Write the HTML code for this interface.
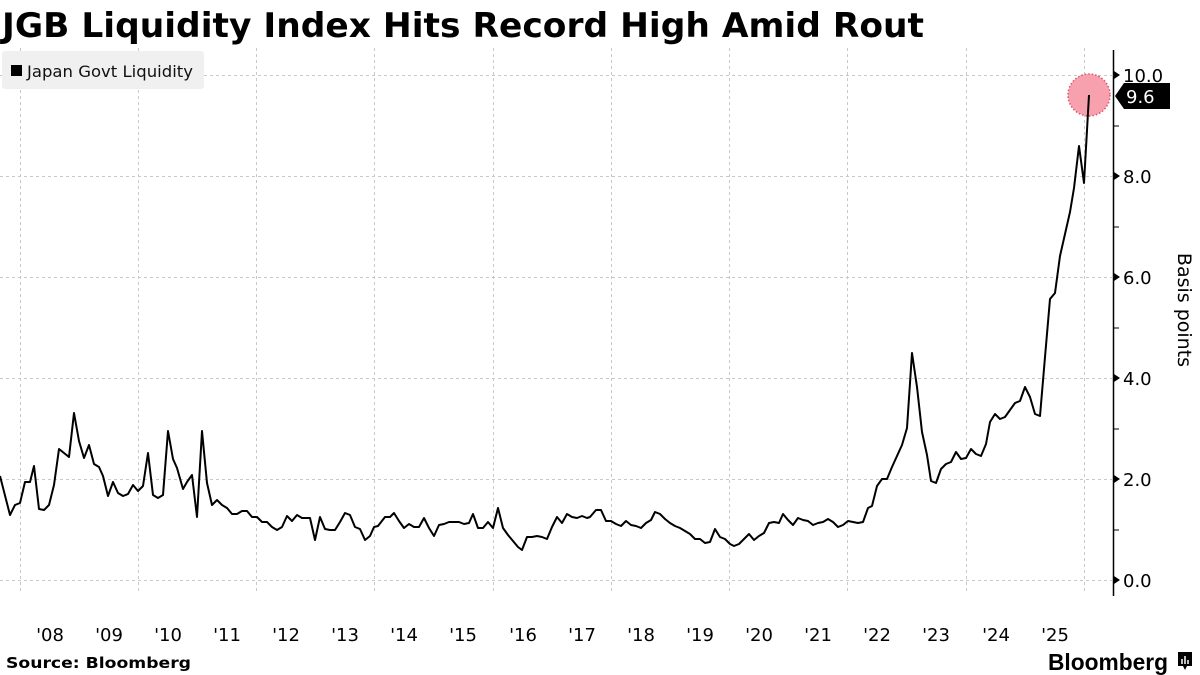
<!DOCTYPE html>
<html><head><meta charset="utf-8"><style>
html,body{margin:0;padding:0;background:#fff;}
svg{display:block;}
</style></head><body>
<svg width="1200" height="675" viewBox="0 0 1200 675" xmlns="http://www.w3.org/2000/svg">
<rect width="1200" height="675" fill="#fff"/>
<text x="2" y="37" font-family="DejaVu Sans, sans-serif" font-weight="bold" font-size="34" textLength="922" lengthAdjust="spacingAndGlyphs">JGB Liquidity Index Hits Record High Amid Rout</text>
<g stroke="#c8c8c8" stroke-width="1" stroke-dasharray="3,3">
<line x1="0" y1="75.5" x2="1112" y2="75.5"/>
<line x1="0" y1="176.5" x2="1112" y2="176.5"/>
<line x1="0" y1="277.5" x2="1112" y2="277.5"/>
<line x1="0" y1="378.5" x2="1112" y2="378.5"/>
<line x1="0" y1="479.5" x2="1112" y2="479.5"/>
<line x1="0" y1="580.5" x2="1112" y2="580.5"/>
<line x1="20.5" y1="48" x2="20.5" y2="594"/>
<line x1="138.5" y1="48" x2="138.5" y2="594"/>
<line x1="256.5" y1="48" x2="256.5" y2="594"/>
<line x1="374.5" y1="48" x2="374.5" y2="594"/>
<line x1="493.5" y1="48" x2="493.5" y2="594"/>
<line x1="611.5" y1="48" x2="611.5" y2="594"/>
<line x1="729.5" y1="48" x2="729.5" y2="594"/>
<line x1="847.5" y1="48" x2="847.5" y2="594"/>
<line x1="966.5" y1="48" x2="966.5" y2="594"/>
<line x1="1084.5" y1="48" x2="1084.5" y2="594"/>
</g>
<rect x="2" y="51" width="202" height="38" rx="3" fill="#f0f0f0"/>
<rect x="11" y="65" width="11" height="11" fill="#000"/>
<text x="27" y="77" font-family="DejaVu Sans, sans-serif" font-size="16" fill="#111" textLength="166" lengthAdjust="spacingAndGlyphs">Japan Govt Liquidity</text>
<line x1="1113.5" y1="50" x2="1113.5" y2="596" stroke="#000" stroke-width="1.5"/>
<g stroke="#000" stroke-width="1">
<line x1="1114" y1="126" x2="1119" y2="126"/><line x1="1114" y1="227" x2="1119" y2="227"/>
<line x1="1114" y1="328" x2="1119" y2="328"/><line x1="1114" y1="429" x2="1119" y2="429"/>
<line x1="1114" y1="530" x2="1119" y2="530"/>
</g>
<g fill="#000">
<path d="M1114 71 L1120 75 L1114 79Z"/><path d="M1114 172 L1120 176 L1114 180Z"/>
<path d="M1114 273 L1120 277 L1114 281Z"/><path d="M1114 374 L1120 378 L1114 382Z"/>
<path d="M1114 475 L1120 479 L1114 483Z"/><path d="M1114 576 L1120 580 L1114 584Z"/>
</g>
<g font-family="DejaVu Sans, sans-serif" font-size="18" fill="#000">
<text x="1123" y="82">10.0</text><text x="1123" y="183">8.0</text><text x="1123" y="284">6.0</text>
<text x="1123" y="385">4.0</text><text x="1123" y="486">2.0</text><text x="1123" y="587">0.0</text>
</g>
<text transform="translate(1178,310) rotate(90)" text-anchor="middle" font-family="DejaVu Sans, sans-serif" font-size="19" fill="#000">Basis points</text>
<circle cx="1089" cy="95" r="21" fill="#f7a1ae" stroke="#e0506a" stroke-width="1.5" stroke-dasharray="1.5,2"/>
<polyline fill="none" stroke="#000" stroke-width="2" stroke-linejoin="round" points="0,476 10,515 15,505 20,503 25,482 30,482 34,466 39,509 44,510 49,505 54,485 59,449 64,453 69,457 74,413 79,441 84,458 89,445 94,464 99,467 103,476 108,496 113,482 118,493 123,496 128,494 133,485 138,491 143,486 148,453 153,495 158,498 163,495 168,431 173,459 177,468 183,489 187,482 192,475 197,517 202,431 207,483 212,505 217,500 222,505 227,508 232,514 237,514 242,511 247,511 252,517 257,517 262,522 267,522 272,527 277,530 282,527 287,516 292,521 297,515 302,518 310,518 315,540 320,517 325,529 330,530 335,530 340,522 345,513 350,515 355,527 360,529 365,540 370,536 374,527 378,526 385,517 390,517 394,513 399,521 404,528 409,524 414,527 419,527 424,518 429,528 434,536 439,525 444,524 449,522 454,522 459,522 464,524 469,523 473,514 478,528 483,528 488,522 493,528 498,508 503,528 508,535 513,541 518,547 522,550 527,537 532,537 537,536 542,537 547,539 552,527 557,517 562,523 567,514 572,517 577,518 582,516 587,518 590,517 596,510 601,510 606,521 611,521 616,524 621,526 626,521 631,525 636,526 641,528 646,523 651,520 655,512 660,514 665,519 670,523 675,526 680,528 685,531 690,534 695,539 700,539 705,543 710,542 715,529 720,537 725,539 730,544 734,546 739,544 744,539 749,534 754,540 759,536 764,533 769,523 774,522 779,523 783,514 788,520 793,525 798,518 803,520 808,521 813,525 818,523 823,522 828,519 833,522 838,527 843,525 848,521 853,522 858,523 863,522 868,508 872,506 877,486 882,479 887,479 892,467 897,456 902,445 907,428 912,353 917,387 922,432 927,455 931,481 936,483 941,469 946,464 951,462 956,452 961,459 966,458 971,449 976,454 981,456 986,444 990,422 995,414 1000,419 1005,417 1010,410 1015,403 1020,401 1025,387 1030,397 1035,414 1040,416 1045,357 1050,299 1055,293 1060,256 1065,234 1070,212 1074,188 1079,146 1084,183 1089,95"/>
<path d="M1115 96 L1124 83 L1170 83 L1170 109 L1124 109Z" fill="#000"/>
<text x="1126" y="103" font-family="DejaVu Sans, sans-serif" font-size="18" fill="#fff">9.6</text>
<g font-family="DejaVu Sans, sans-serif" font-size="18" fill="#000" text-anchor="middle">
<text x="50" y="641">'08</text><text x="109" y="641">'09</text><text x="168" y="641">'10</text>
<text x="227" y="641">'11</text><text x="286" y="641">'12</text><text x="345" y="641">'13</text>
<text x="404" y="641">'14</text><text x="463" y="641">'15</text><text x="523" y="641">'16</text>
<text x="582" y="641">'17</text><text x="641" y="641">'18</text><text x="700" y="641">'19</text>
<text x="759" y="641">'20</text><text x="818" y="641">'21</text><text x="877" y="641">'22</text>
<text x="936" y="641">'23</text><text x="996" y="641">'24</text><text x="1055" y="641">'25</text>
</g>
<text x="6" y="668" font-family="DejaVu Sans, sans-serif" font-weight="bold" font-size="15.5" textLength="185" lengthAdjust="spacingAndGlyphs">Source: Bloomberg</text>
<text x="1048" y="670" font-family="Liberation Sans, sans-serif" font-weight="bold" font-size="23" textLength="120" lengthAdjust="spacingAndGlyphs">Bloomberg</text>
<path d="M1178 652 h14 v14 h-5 l-2 4 l-2 -4 h-5z" fill="#000"/>
<g stroke="#fff" stroke-width="1.5"><line x1="1182" y1="664" x2="1182" y2="659"/><line x1="1185" y1="664" x2="1185" y2="656"/><line x1="1188" y1="664" x2="1188" y2="660"/></g>
</svg>
</body></html>
